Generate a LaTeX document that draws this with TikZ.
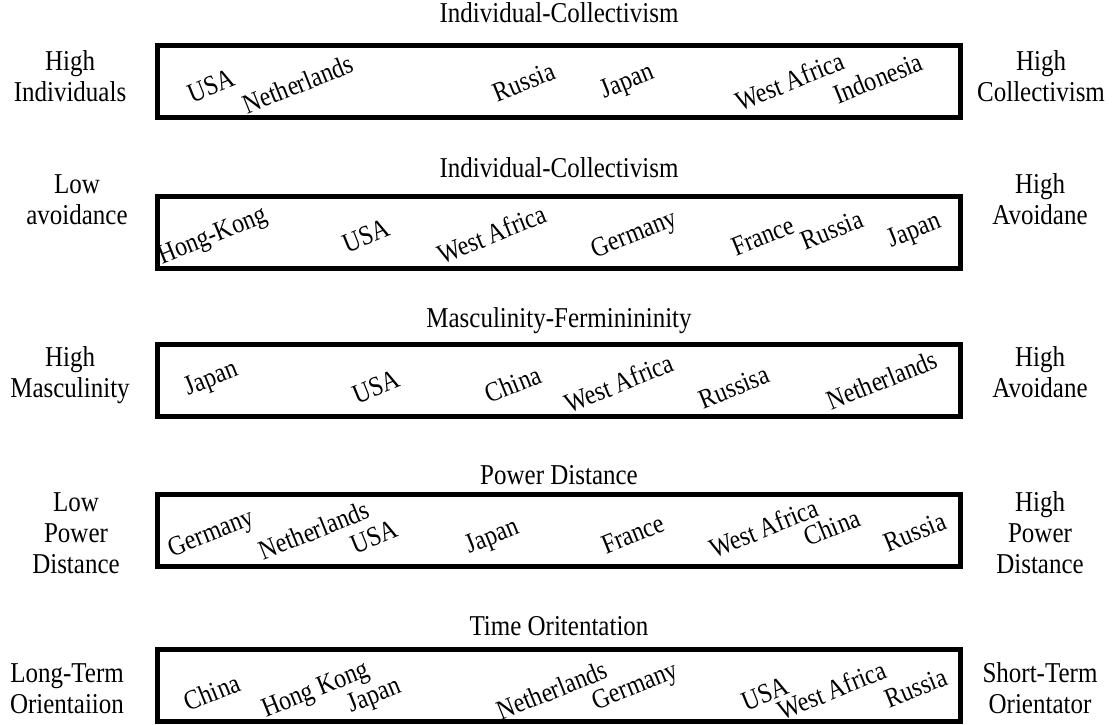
\documentclass[tikz,border=0pt]{standalone}
\usepackage{fontspec}
\usepackage{graphicx}
\setmainfont{Liberation Serif}
% slightly tall lettering
\newcommand{\tallt}[1]{\scalebox{1}[1.15]{#1}}
\newcommand{\polestack}[1]{\scalebox{1}[1.15]{\begin{tabular}{@{}c@{}}#1\end{tabular}}}
\begin{document}
\begin{tikzpicture}[x=1pt,y=-1pt,
  scalebox/.style={draw=black,line width=5pt,minimum width=803pt,minimum height=72pt,inner sep=0pt},
  scaletitle/.style={font=\fontsize{25}{27}\selectfont,inner sep=0pt},
  pole/.style={font=\fontsize{25}{27}\selectfont,inner sep=0pt},
  country/.style={font=\fontsize{24}{27}\selectfont,rotate=22,inner sep=0pt}]
\useasboundingbox (0,0) rectangle (1119,725);

% --- Individual-Collectivism ---
\node[scaletitle] (t1) at (559,13) {\tallt{Individual-Collectivism}};
\node[scalebox] (b1) at (559,81.5) {};
\node[pole] (l1) at (70,80) {\polestack{High\\Individuals}};
\node[pole] (r1) at (1041,80) {\polestack{High\\Collectivism}};
\node[country] (c11) at (211,86) {\tallt{USA}};
\node[country] (c12) at (298,84) {\tallt{Netherlands}};
\node[country] (c13) at (524,82) {\tallt{Russia}};
\node[country] (c14) at (628,83) {\tallt{Japan}};
\node[country] (c15) at (790,81) {\tallt{West Africa}};
\node[country] (c16) at (878,78) {\tallt{Indonesia}};

% --- Uncertainty avoidance ---
\node[scaletitle] (t2) at (559,168) {\tallt{Individual-Collectivism}};
\node[scalebox] (b2) at (559,232) {};
\node[pole] (l2) at (77,203) {\polestack{Low\\avoidance}};
\node[pole] (r2) at (1040,203) {\polestack{High\\Avoidane}};
\node[country] (c21) at (213,237) {\tallt{Hong-Kong}};
\node[country] (c22) at (366,236) {\tallt{USA}};
\node[country] (c23) at (492,234) {\tallt{West Africa}};
\node[country] (c24) at (635,236) {\tallt{Germany}};
\node[country] (c25) at (763,236) {\tallt{France}};
\node[country] (c26) at (832,230) {\tallt{Russia}};
\node[country] (c27) at (915,232) {\tallt{Japan}};

% --- Masculinity-Femininity ---
\node[scaletitle] (t3) at (559,321) {\tallt{Masculinity-Ferminininity}};
\node[scalebox] (b3) at (559,380) {};
\node[pole] (l3) at (70,376) {\polestack{High\\Masculinity}};
\node[pole] (r3) at (1040,376) {\polestack{High\\Avoidane}};
\node[country] (c31) at (212,380) {\tallt{Japan}};
\node[country] (c32) at (376,387) {\tallt{USA}};
\node[country] (c33) at (513,384) {\tallt{China}};
\node[country] (c34) at (619,383) {\tallt{West Africa}};
\node[country] (c35) at (734,387) {\tallt{Russisa}};
\node[country] (c36) at (882,380) {\tallt{Netherlands}};

% --- Power Distance ---
\node[scaletitle] (t4) at (559,475) {\tallt{Power Distance}};
\node[scalebox] (b4) at (559,530) {};
\node[pole] (l4) at (76,536) {\polestack{Low\\Power\\Distance}};
\node[pole] (r4) at (1040,536) {\polestack{High\\Power\\Distance}};
\node[country] (c41) at (212,535) {\tallt{Germany}};
\node[country] (c42) at (314,530) {\tallt{Netherlands}};
\node[country] (c43) at (374,537) {\tallt{USA}};
\node[country] (c44) at (493,538) {\tallt{Japan}};
\node[country] (c45) at (633,534) {\tallt{France}};
\node[country] (c46) at (764,528) {\tallt{West Africa}};
\node[country] (c47) at (832,527) {\tallt{China}};
\node[country] (c48) at (915,532) {\tallt{Russia}};

% --- Time Orientation ---
\node[scaletitle] (t5) at (559,626) {\tallt{Time Oritentation}};
\node[scalebox] (b5) at (559,685.5) {};
\node[pole] (l5) at (67,692) {\polestack{Long-Term\\Orientaiion}};
\node[pole] (r5) at (1040,692) {\polestack{Short-Term\\Orientator}};
\node[country] (c51) at (212,692) {\tallt{China}};
\node[country] (c52) at (316,691) {\tallt{Hong Kong}};
\node[country] (c53) at (375,697) {\tallt{Japan}};
\node[country] (c54) at (552,690) {\tallt{Netherlands}};
\node[country] (c55) at (636,688) {\tallt{Germany}};
\node[country] (c56) at (765,694) {\tallt{USA}};
\node[country] (c57) at (832,690) {\tallt{West Africa}};
\node[country] (c58) at (916,688) {\tallt{Russia}};
\end{tikzpicture}
\end{document}
